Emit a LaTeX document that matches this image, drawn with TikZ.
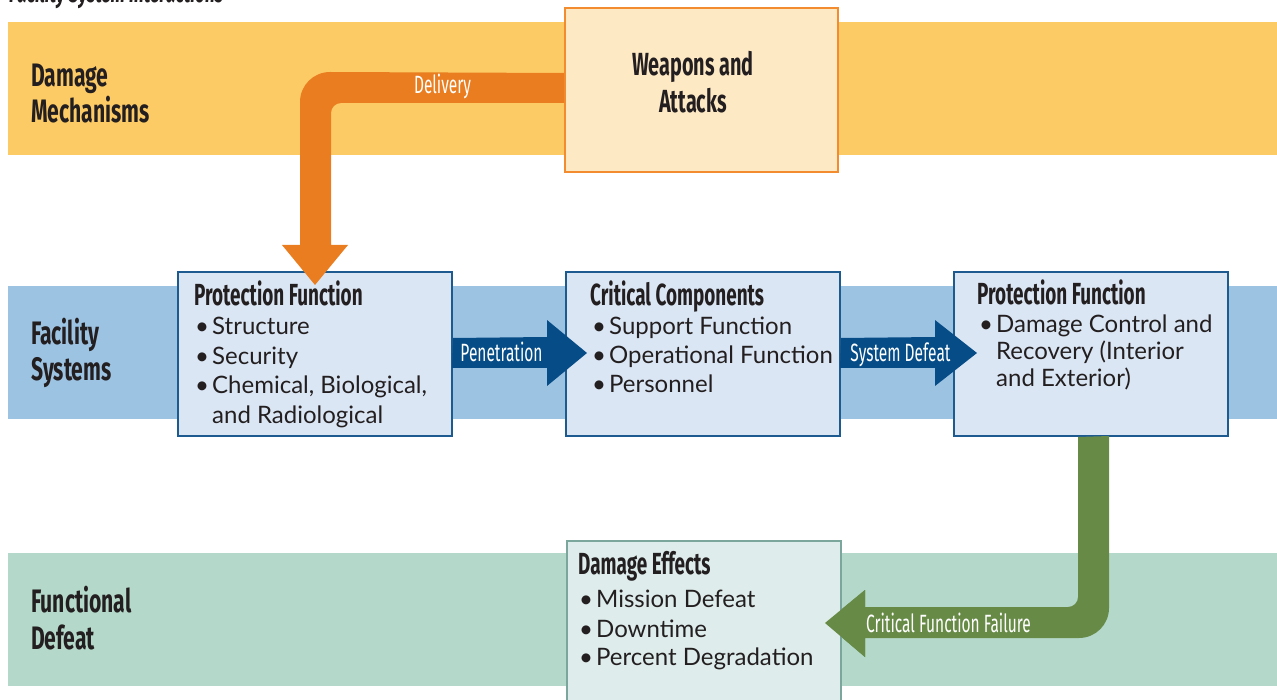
\documentclass[tikz,border=0pt]{standalone}
\usepackage{fontspec}
\setmainfont{Lato}
\newfontfamily\hfont[FakeStretch=0.62]{Fira Sans}
\newfontfamily\lfont[FakeStretch=0.65]{Fira Sans}
\usetikzlibrary{calc}
\definecolor{yband}{HTML}{FDCB65}
\definecolor{wafill}{HTML}{FEE9C5}
\definecolor{waline}{HTML}{F28C2E}
\definecolor{orangearr}{HTML}{E97D1F}
\definecolor{bband}{HTML}{9DC3E3}
\definecolor{boxfill}{HTML}{DBE6F4}
\definecolor{boxline}{HTML}{1D5A90}
\definecolor{bluearr}{HTML}{064C86}
\definecolor{gband}{HTML}{B4D8C9}
\definecolor{defill}{HTML}{DEECEB}
\definecolor{deline}{HTML}{7AA69B}
\definecolor{greenarr}{HTML}{678B47}
\definecolor{txt}{HTML}{231F20}
\newcommand{\bul}{\makebox[17pt][l]{\textbullet}}
\tikzset{
  sysbox/.style={draw=boxline, fill=boxfill, line width=2pt, minimum width=274pt, minimum height=164pt, anchor=north west, inner sep=0pt},
  head/.style={anchor=base west, inner sep=0pt, text=txt, font=\hfont\bfseries\fontsize{30.5}{36}\selectfont},
  body/.style={anchor=base west, inner sep=0pt, text=txt, font=\fontsize{24}{28}\selectfont},
  lab/.style={anchor=base west, inner sep=0pt, text=txt, font=\lfont\bfseries\fontsize{32.5}{38}\selectfont},
  walab/.style={anchor=base, inner sep=0pt, text=txt, font=\hfont\bfseries\fontsize{32}{38}\selectfont},
  alab/.style={anchor=base, inner sep=0pt, text=white, font=\hfont\fontsize{25}{30}\selectfont},
}
\begin{document}
\begin{tikzpicture}[x=1pt,y=-1pt]
\useasboundingbox (0,0) rectangle (1277,700);
\clip (0,0) rectangle (1277,700);
% title (cut off at top, as in the reference)
\node[anchor=base west, inner sep=0pt, text=txt, font=\hfont\bfseries\itshape\fontsize{28}{34}\selectfont] (title) at (9,3) {Facility System Interactions};
% bands
\fill[yband] (8,22) rectangle (1277,155);
\fill[bband] (8,286) rectangle (1277,419);
\fill[gband] (8,553) rectangle (1277,686);
% boxes
\node[draw=waline, fill=wafill, line width=2pt, minimum width=273pt, minimum height=164pt, anchor=north west, inner sep=0pt] (wa) at (564,7) {};
\node[sysbox] (b1) at (177,271) {};
\node[sysbox] (b2) at (565,271) {};
\node[sysbox] (b3) at (953,271) {};
% green arrow (under box 3 border)
\fill[greenarr] (b3.south -| 1078,0) -- (1109,436) -- (1109,608) .. controls (1109,624.6) and (1095.6,638) .. (1079,638) -- (865,638) -- (865,657) -- (825,623) -- (865,590) -- (865,607) -- (1068,607) .. controls (1073.5,607) and (1078,602.5) .. (1078,597) -- cycle;
\node[draw=deline, fill=defill, line width=2pt, minimum width=274pt, minimum height=200pt, anchor=north west, inner sep=0pt] (de) at (566,540) {};
% green arrowhead on top of box
\fill[greenarr] (865,607) -- (865,590) -- (825,623) -- (865,657) -- (865,638) -- cycle;
% delivery arrow
\fill[orangearr] ([yshift=17pt]wa.west) -- (330,72) .. controls (313.4,72) and (300,85.4) .. (300,102) -- (300,245) -- (282,245) -- ([yshift=-14pt]b1.north) -- (348,245) -- (331,245) -- (331,113) .. controls (331,107.5) and (335.5,103) .. (341,103) -- (564,103) -- cycle;
% penetration arrow
\fill[bluearr] ([yshift=16pt]b1.east) -- (547,337) -- (547,320) -- (587,353) -- (547,386) -- (547,368) -- (452,368) -- cycle;
% system defeat arrow
\fill[bluearr] ([yshift=16pt]b2.east) -- (935,337) -- (935,320) -- (977,353) -- (935,386) -- (935,368) -- (840,368) -- cycle;
% arrow labels
\node[alab] (ldel) at (442.5,94) {Delivery};
\node[alab] (lpen) at (501.5,362) {Penetration};
\node[alab] (lsys) at (900.5,362) {System Defeat};
\node[alab] (lcff) at (948.5,632) {Critical Function Failure};
% band labels
\node[lab] (dm1) at (31,87) {Damage};
\node[lab] (dm2) at (31,123) {Mechanisms};
\node[lab] (fs1) at (31,345) {Facility};
\node[lab] (fs2) at (31,381) {Systems};
\node[lab] (fd1) at (31,612) {Functional};
\node[lab] (fd2) at (31,649) {Defeat};
% weapons
\node[walab] (wa1) at (693,76) {Weapons and};
\node[walab] (wa2) at (693,113) {Attacks};
% box 1
\node[head] (h1) at (194,306) {Protection Function};
\node[body] (b1l1) at (195,335) {\bul Structure};
\node[body] (b1l2) at (195,365) {\bul Security};
\node[body] (b1l3) at (195,394) {\bul Chemical, Biological,};
\node[body] (b1l4) at (212,423) {and Radiological};
% box 2
\node[head] (h2) at (590,306) {Critical Components};
\node[body] (b2l1) at (592,335) {\bul Support Function};
\node[body] (b2l2) at (592,364) {\bul Operational Function};
\node[body] (b2l3) at (592,393) {\bul Personnel};
% box 3
\node[head] (h3) at (977,305) {Protection Function};
\node[body] (b3l1) at (979,333) {\bul Damage Control and};
\node[body] (b3l2) at (996,360) {Recovery (Interior};
\node[body] (b3l3) at (996,387) {and Exterior)};
% damage effects
\node[head] (h4) at (578,574) {Damage Effects};
\node[body] (del1) at (579,607) {\bul Mission Defeat};
\node[body] (del2) at (579,637) {\bul Downtime};
\node[body] (del3) at (579,665) {\bul Percent Degradation};
\end{tikzpicture}
\end{document}
